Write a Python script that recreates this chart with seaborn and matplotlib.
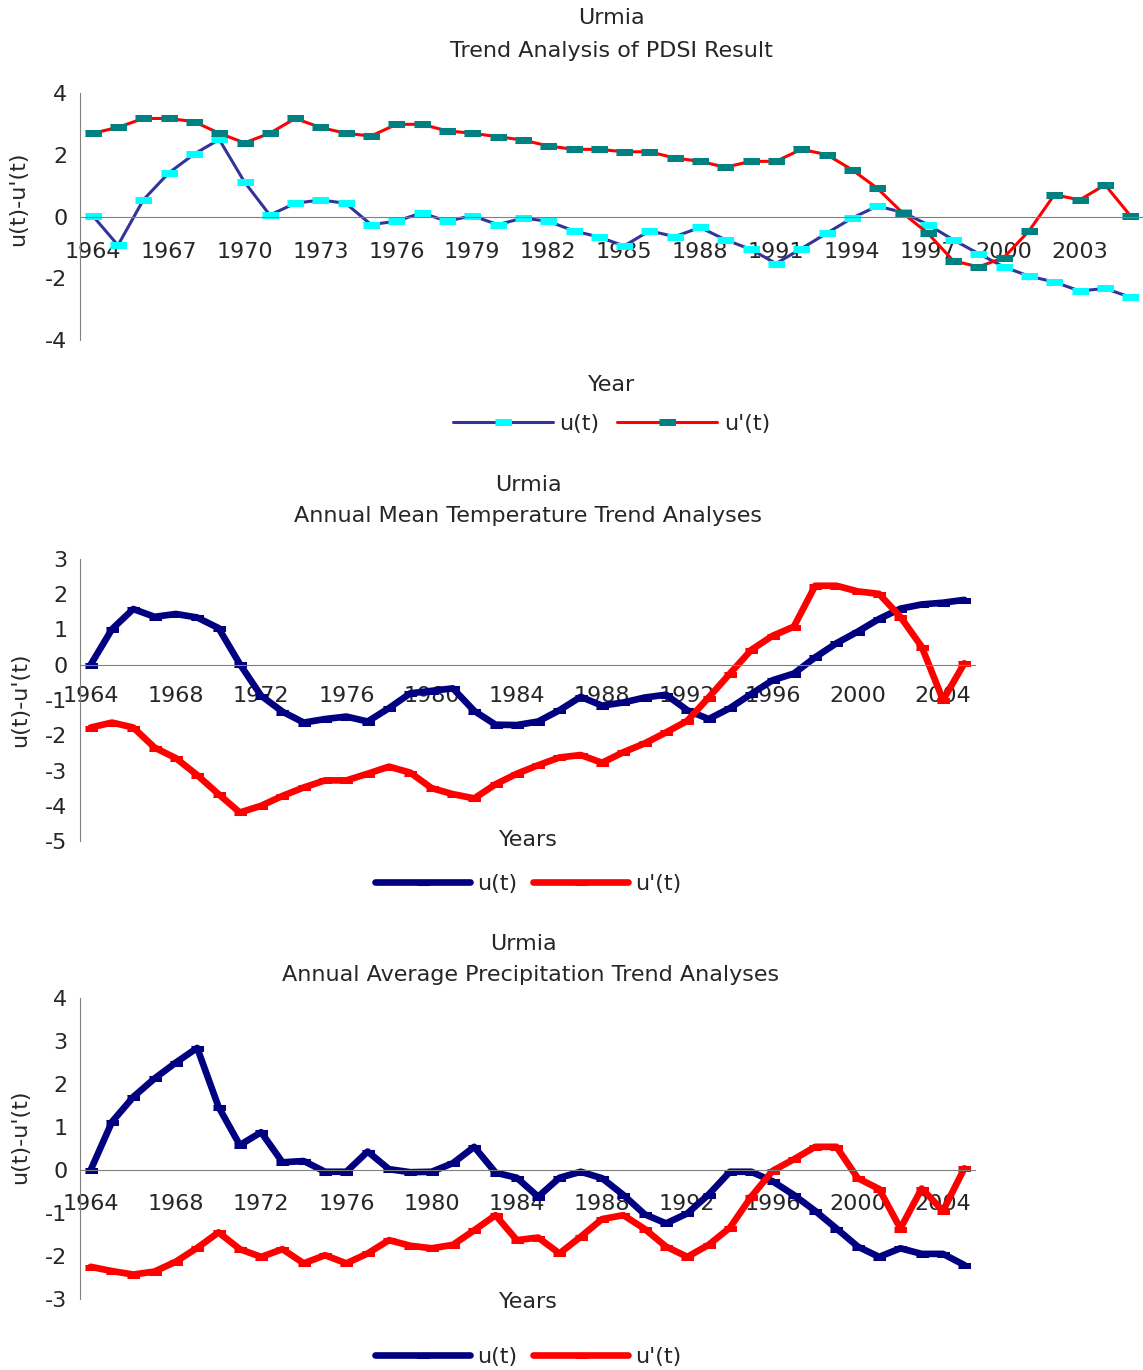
import matplotlib
matplotlib.use("Agg")
import matplotlib.pyplot as plt
import seaborn as sns
import pandas as pd
import numpy as np

years = list(range(1964, 2006))

# PDSI trend (Mann-Kendall sequential)
pdsi_u = [0.03, -0.93, 0.54, 1.41, 2.02, 2.5, 1.12, 0.05, 0.43, 0.54, 0.43, -0.26, -0.15, 0.12,
          -0.15, 0.03, -0.26, -0.05, -0.15, -0.46, -0.66, -0.95, -0.46, -0.65, -0.35, -0.75, -1.06,
          -1.52, -1.04, -0.54, -0.05, 0.34, 0.14, -0.26, -0.75, -1.2, -1.63, -1.93, -2.12, -2.41,
          -2.33, -2.61]
pdsi_u2 = [2.7, 2.89, 3.18, 3.18, 3.08, 2.7, 2.39, 2.7, 3.18, 2.89, 2.7, 2.61, 2.99, 2.99, 2.78,
           2.7, 2.59, 2.48, 2.29, 2.18, 2.18, 2.1, 2.1, 1.9, 1.79, 1.6, 1.79, 1.79, 2.18, 2.01,
           1.52, 0.92, 0.12, -0.54, -1.43, -1.63, -1.33, -0.46, 0.71, 0.54, 1.03, 0.03]

# annual mean temperature
temp_u = [0.0, 1.01, 1.58, 1.36, 1.44, 1.34, 1.04, 0.02, -0.88, -1.33, -1.64, -1.54, -1.47, -1.61,
          -1.23, -0.81, -0.74, -0.67, -1.31, -1.7, -1.71, -1.61, -1.29, -0.91, -1.16, -1.07, -0.93,
          -0.85, -1.29, -1.54, -1.23, -0.83, -0.44, -0.25, 0.21, 0.61, 0.94, 1.3, 1.59, 1.71, 1.76,
          1.84]
temp_u2 = [-1.78, -1.64, -1.78, -2.35, -2.65, -3.13, -3.67, -4.19, -4.0, -3.72, -3.48, -3.28, -3.28,
           -3.09, -2.89, -3.06, -3.5, -3.67, -3.79, -3.39, -3.09, -2.85, -2.63, -2.56, -2.78, -2.48,
           -2.23, -1.92, -1.59, -0.93, -0.25, 0.42, 0.82, 1.08, 2.24, 2.24, 2.08, 2.01, 1.36, 0.51,
           -1.0, 0.04]

# annual average precipitation
prec_u = [0.0, 1.12, 1.7, 2.13, 2.5, 2.84, 1.47, 0.58, 0.88, 0.18, 0.21, -0.04, -0.04, 0.43, 0.02,
          -0.05, -0.04, 0.16, 0.54, -0.06, -0.18, -0.62, -0.18, -0.04, -0.19, -0.58, -1.03, -1.24,
          -1.01, -0.57, -0.04, -0.04, -0.26, -0.58, -0.95, -1.36, -1.78, -2.02, -1.82, -1.95, -1.95,
          -2.21]
prec_u2 = [-2.25, -2.35, -2.43, -2.36, -2.13, -1.81, -1.45, -1.84, -2.02, -1.84, -2.17, -1.98, -2.17,
           -1.94, -1.63, -1.76, -1.82, -1.74, -1.4, -1.05, -1.63, -1.57, -1.94, -1.55, -1.14, -1.05,
           -1.37, -1.78, -2.02, -1.74, -1.34, -0.62, -0.02, 0.25, 0.54, 0.54, -0.19, -0.44, -1.36,
           -0.43, -0.95, 0.04]

sns.set_style("white")
plt.rcParams['font.family'] = ['DejaVu Sans']
FS = 16

fig = plt.figure(figsize=(11.43, 13.7), dpi=100)

dash = [(-1, -0.4), (1, -0.4), (1, 0.4), (-1, 0.4)]
axis_col = "#808080"


def draw_panel(rect, u, u2, ylim, yticks, label_step, lab_pad, thin):
    ax = fig.add_axes(rect)
    df = pd.DataFrame({"idx": range(len(years)), "u": u, "u2": u2})
    if thin:
        sns.lineplot(data=df, x="idx", y="u", ax=ax, color="#333399", lw=2.2, marker=dash, ms=11,
                     markerfacecolor="#00FFFF", markeredgecolor="#00FFFF", label="u(t)")
        sns.lineplot(data=df, x="idx", y="u2", ax=ax, color="#FF0000", lw=2.2, marker=dash, ms=11,
                     markerfacecolor="#008080", markeredgecolor="#008080", label="u'(t)")
    else:
        sns.lineplot(data=df, x="idx", y="u", ax=ax, color="#000080", lw=4.8, marker=dash, ms=9,
                     markerfacecolor="#000080", markeredgecolor="#000080", label="u(t)")
        sns.lineplot(data=df, x="idx", y="u2", ax=ax, color="#FF0000", lw=4.8, marker=dash, ms=9,
                     markerfacecolor="#FF0000", markeredgecolor="#FF0000", label="u'(t)")
    ax.set_xlim(-0.5, len(years) - 0.5)
    ax.set_ylim(*ylim)
    ax.set_yticks(yticks)
    ax.set_yticklabels([str(t) for t in yticks])
    ax.spines['top'].set_visible(False)
    ax.spines['right'].set_visible(False)
    ax.spines['left'].set_color(axis_col)
    ax.spines['bottom'].set_color(axis_col)
    ax.spines['bottom'].set_position(('data', 0))
    ax.set_xticks(np.arange(-0.5, len(years), 1))
    ax.set_xticklabels([])
    pos = list(range(0, len(years), label_step))
    ax.set_xticks(pos, minor=True)
    ax.set_xticklabels([str(years[i]) for i in pos], minor=True)
    ax.tick_params(axis='x', which='major', direction='out', length=5, color=axis_col)
    ax.tick_params(axis='x', which='minor', length=0, pad=lab_pad, labelsize=FS)
    ax.tick_params(axis='y', direction='out', length=5, color=axis_col, labelsize=FS, pad=4)
    ax.set_xlabel("")
    ax.set_ylabel("")
    ax.get_legend().remove()
    return ax


# top panel
ax1 = draw_panel([0.070, 0.7518, 0.930, 0.1802], pdsi_u, pdsi_u2, (-4, 4), [-4, -2, 0, 2, 4], 3, 18, True)
fig.text(0.535, 0.987, "Urmia", ha='center', va='center', fontsize=FS)
fig.text(0.535, 0.963, "Trend Analysis of PDSI Result", ha='center', va='center', fontsize=FS)
fig.text(0.535, 0.719, "Year", ha='center', va='center', fontsize=FS)
fig.text(0.016, 0.855, "u(t)-u'(t)", ha='center', va='center', rotation=90, fontsize=FS)
h, l = ax1.get_legend_handles_labels()
fig.legend(h, l, loc='center', bbox_to_anchor=(0.535, 0.6905), ncol=2, frameon=False,
           handlelength=4.5, fontsize=FS, columnspacing=0.8, handletextpad=0.3)

# middle panel
ax2 = draw_panel([0.070, 0.3861, 0.783, 0.2059], temp_u, temp_u2, (-5, 3), list(range(-5, 4)), 4, 15, False)
fig.text(0.462, 0.646, "Urmia", ha='center', va='center', fontsize=FS)
fig.text(0.462, 0.623, "Annual Mean Temperature Trend Analyses", ha='center', va='center', fontsize=FS)
fig.text(0.462, 0.387, "Years", ha='center', va='center', fontsize=FS)
fig.text(0.018, 0.489, "u(t)-u'(t)", ha='center', va='center', rotation=90, fontsize=FS)
h, l = ax2.get_legend_handles_labels()
fig.legend(h, l, loc='center', bbox_to_anchor=(0.462, 0.3547), ncol=2, frameon=False,
           handlelength=4.3, fontsize=FS, columnspacing=0.7, handletextpad=0.3)

# bottom panel
ax3 = draw_panel([0.070, 0.0518, 0.783, 0.2197], prec_u, prec_u2, (-3, 4), list(range(-3, 5)), 4, 17, False)
fig.text(0.458, 0.311, "Urmia", ha='center', va='center', fontsize=FS)
fig.text(0.464, 0.288, "Annual Average Precipitation Trend Analyses", ha='center', va='center', fontsize=FS)
fig.text(0.462, 0.0496, "Years", ha='center', va='center', fontsize=FS)
fig.text(0.018, 0.170, "u(t)-u'(t)", ha='center', va='center', rotation=90, fontsize=FS)
h, l = ax3.get_legend_handles_labels()
fig.legend(h, l, loc='center', bbox_to_anchor=(0.462, 0.0095), ncol=2, frameon=False,
           handlelength=4.3, fontsize=FS, columnspacing=0.7, handletextpad=0.3)

fig.savefig("out.png", dpi=100)
